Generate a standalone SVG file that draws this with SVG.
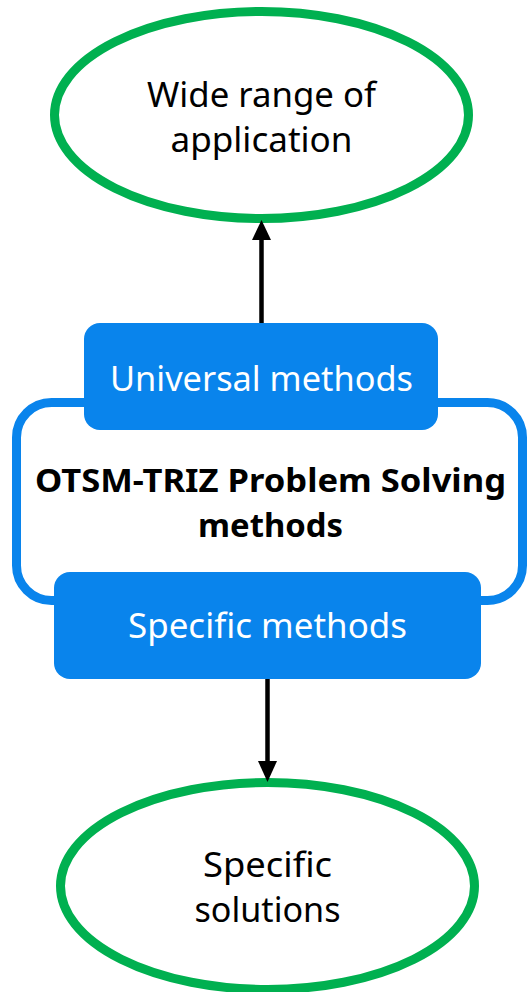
<svg xmlns="http://www.w3.org/2000/svg" width="529" height="992" viewBox="0 0 529 992">
<style>
.ell{fill:#fff;stroke:#00B050;stroke-width:9}
.box{fill:#0984EC}
.t{font-family:"Noto Sans","Open Sans","DejaVu Sans",sans-serif;font-size:34px;text-anchor:middle}
.dark{fill:#000}
.light{fill:#fff}
.bold{font-weight:bold;font-size:33px}
.conn{stroke:#000;stroke-width:4.5;fill:none}
</style>
<rect width="529" height="992" fill="#fff"/>
<g id="top-ellipse">
<ellipse class="ell" cx="261.5" cy="115" rx="207" ry="103.5"/>
<text class="t dark" x="261.5" y="107" textLength="229" lengthAdjust="spacingAndGlyphs">Wide range of</text>
<text class="t dark" x="261.5" y="152" textLength="182" lengthAdjust="spacingAndGlyphs">application</text>
</g>
<g id="main-frame">
<rect x="16.5" y="402.5" width="506" height="198" rx="35" fill="#fff" stroke="#0984EC" stroke-width="9"/>
<text class="t bold dark" x="270.5" y="492" textLength="471" lengthAdjust="spacingAndGlyphs">OTSM-TRIZ Problem Solving</text>
<text class="t bold dark" x="270.5" y="537" textLength="145" lengthAdjust="spacingAndGlyphs">methods</text>
</g>
<g id="universal">
<rect class="box" x="84" y="323" width="354" height="107" rx="16"/>
<text class="t light" x="261.5" y="391" textLength="303" lengthAdjust="spacingAndGlyphs">Universal methods</text>
</g>
<g id="specific">
<rect class="box" x="54" y="572" width="427" height="107" rx="16"/>
<text class="t light" x="267.5" y="638" textLength="279" lengthAdjust="spacingAndGlyphs">Specific methods</text>
</g>
<g id="bottom-ellipse">
<ellipse class="ell" cx="267.5" cy="886" rx="207" ry="103.5"/>
<text class="t dark" x="267.5" y="877" textLength="129" lengthAdjust="spacingAndGlyphs">Specific</text>
<text class="t dark" x="267.5" y="922" textLength="146" lengthAdjust="spacingAndGlyphs">solutions</text>
</g>
<g id="connectors">
<line class="conn" x1="261.5" y1="323" x2="261.5" y2="236"/>
<polygon points="261.5,220 252,240 271,240" fill="#000"/>
<line class="conn" x1="267.5" y1="679" x2="267.5" y2="764"/>
<polygon points="267.5,782 258,761 277,761" fill="#000"/>
</g>
</svg>
